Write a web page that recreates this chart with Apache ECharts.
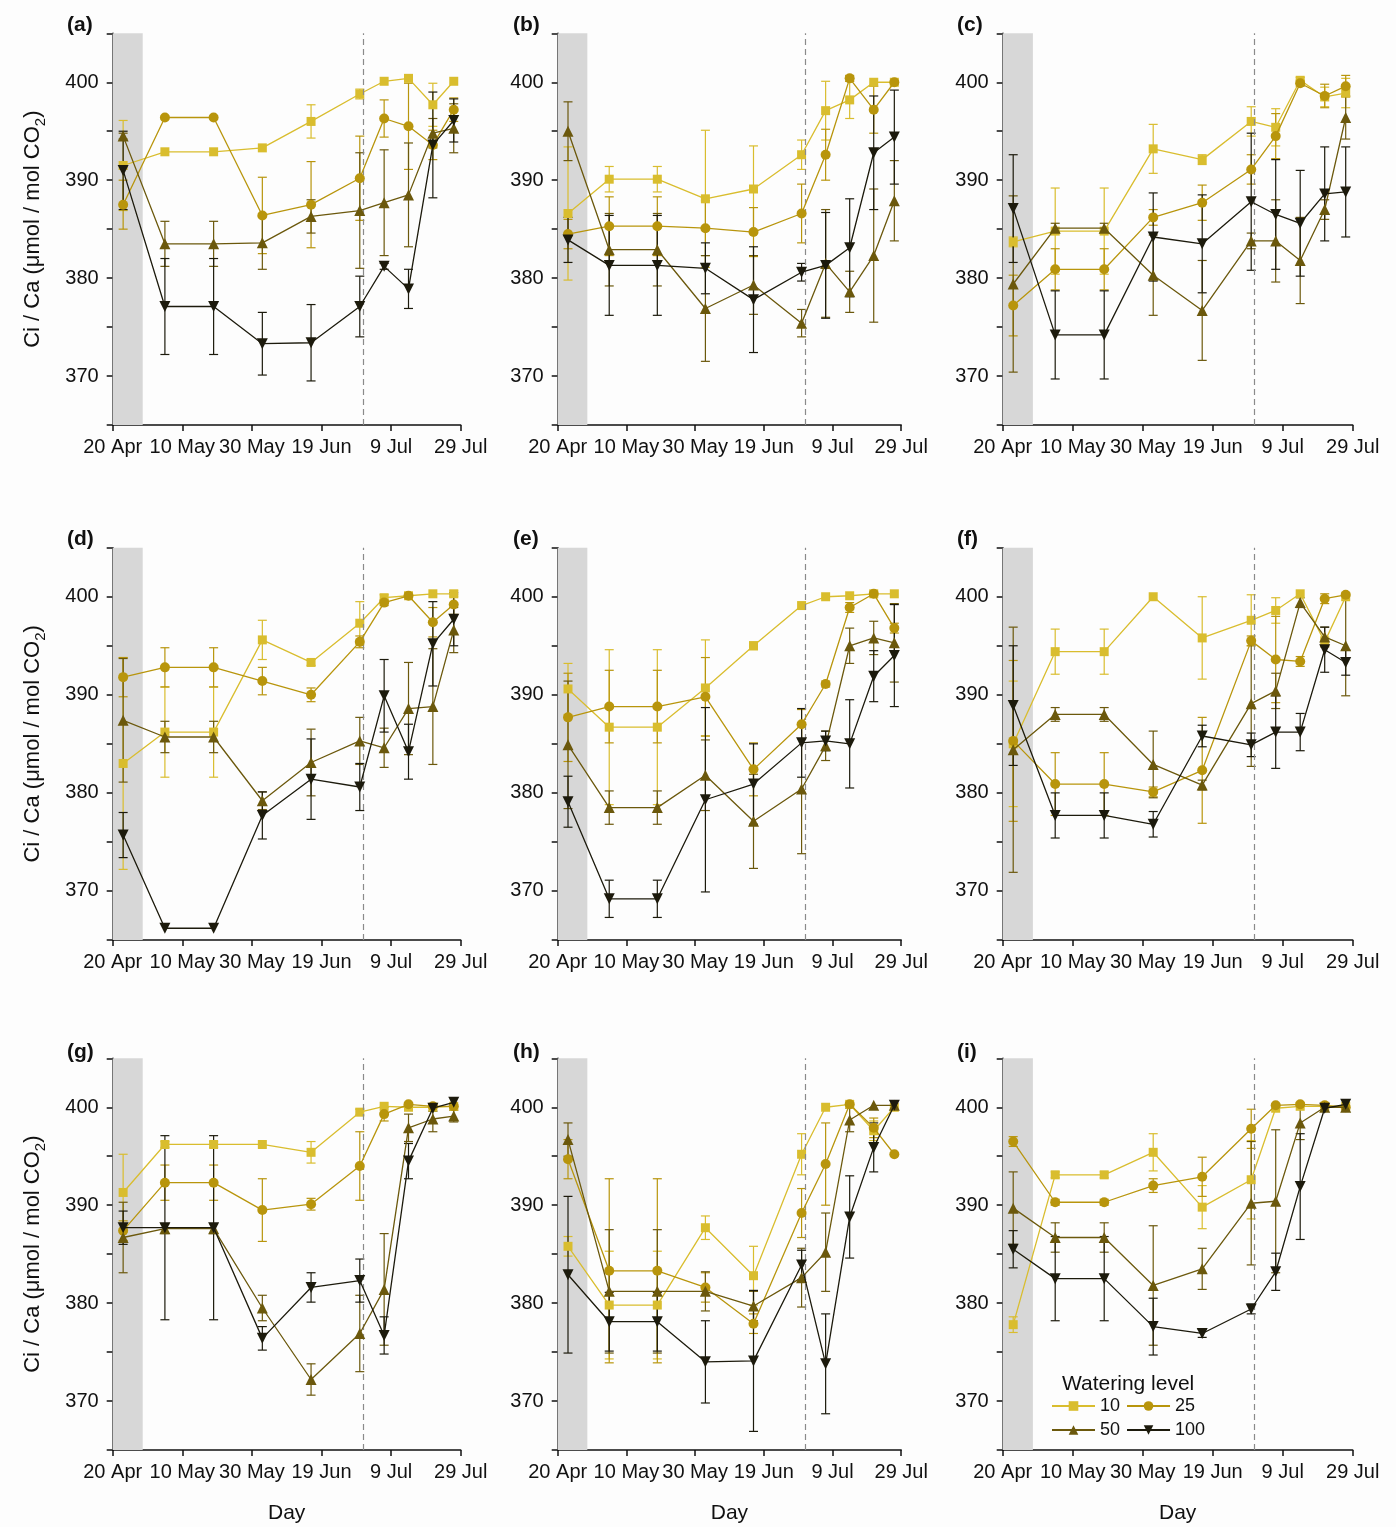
<!DOCTYPE html>
<html><head><meta charset="utf-8">
<script src="https://cdn.jsdelivr.net/npm/echarts@6/dist/echarts.min.js"></script>
<style>html,body{margin:0;padding:0;background:#fdfdfd}#chart{width:1396px;height:1527px}</style>
</head><body><div id="chart"></div><script>
// ---------- data ----------
const startDate = '2021-04-20';
const sampleDates = ['2021-04-23','2021-05-05','2021-05-19','2021-06-02','2021-06-16','2021-06-30','2021-07-07','2021-07-14','2021-07-21','2021-07-27'];
const tickLabels = ['20 Apr','10 May','30 May','19 Jun','9 Jul','29 Jul'];
const shadeEnd = '2021-04-28T15:00:00Z';
const dashDate = '2021-07-01';
const levels = ['10','25','50','100'];
const panelLabels = ['(a)','(b)','(c)','(d)','(e)','(f)','(g)','(h)','(i)'];
const yTicks = [370, 380, 390, 400];

const a10 = [391.5,392.9,392.9,393.3,396.0,398.8,400.1,400.4,397.7,400.1];
const a10e = [4.6,0,0,0,1.7,0.5,0,0,2.2,0];
const a25 = [387.5,396.4,396.4,386.4,387.5,390.2,396.3,395.5,393.6,397.2];
const a25e = [2.5,0,0,3.9,4.4,4.3,1.9,4.4,1.5,1.2];
const a50 = [394.5,383.5,383.5,383.6,386.3,386.9,387.7,388.5,394.8,395.3];
const a50e = [0.3,2.3,2.3,2.7,1.7,5.9,5.4,5.3,1.5,2.5];
const a100 = [391.0,377.1,377.1,373.3,373.4,377.1,381.2,378.9,393.6,396.1];
const a100e = [4.0,4.9,4.9,3.2,3.9,3.1,0.3,2.0,5.4,2.2];

const b10 = [386.6,390.1,390.1,388.1,389.1,392.6,397.1,398.2,400.0,400.0];
const b10e = [6.8,1.3,1.3,7.0,4.4,1.5,3.0,1.9,0,0];
const b25 = [384.5,385.3,385.3,385.1,384.7,386.6,392.6,400.4,397.2,400.0];
const b25e = [1.5,3.0,3.0,2.8,2.5,3.0,2.6,0.3,2.4,0];
const b50 = [395.0,382.9,382.9,376.9,379.3,375.4,381.5,378.6,382.3,387.9];
const b50e = [3.0,3.7,3.7,5.4,3.0,1.4,5.5,2.1,6.8,4.1];
const b100 = [383.9,381.3,381.3,381.0,377.8,380.6,381.3,383.1,392.8,394.4];
const b100e = [2.3,5.1,5.1,2.6,5.4,0.9,5.4,5.0,5.8,4.8];

const c10 = [383.7,384.8,384.8,393.2,392.1,396.0,395.4,400.2,398.5,398.9];
const c10e = [0.5,4.4,4.4,2.5,0.5,1.5,1.9,0.3,1.0,1.5];
const c25 = [377.2,380.9,380.9,386.2,387.7,391.1,394.5,399.9,398.6,399.6];
const c25e = [3.1,2.1,2.1,0.8,1.8,1.5,2.3,0.3,1.2,1.1];
const c50 = [379.4,385.1,385.1,380.3,376.7,383.8,383.8,381.8,387.0,396.4];
const c50e = [9.0,0.5,0.5,4.1,5.1,0.8,4.2,4.4,1.0,2.2];
const c100 = [387.1,374.2,374.2,384.2,383.5,387.8,386.5,385.6,388.6,388.8];
const c100e = [5.5,4.5,4.5,4.5,5.0,7.0,5.6,5.4,4.8,4.6];

const d10 = [383.0,386.2,386.2,395.6,393.3,397.3,399.9,400.1,400.3,400.3];
const d10e = [10.8,4.6,4.6,2.0,0.3,2.2,0.3,0,0,0.3];
const d25 = [391.8,392.8,392.8,391.4,390.0,395.4,399.4,400.1,397.4,399.2];
const d25e = [2.0,2.0,2.0,1.4,0.7,0.6,0.3,0,1.5,1.0];
const d50 = [387.4,385.7,385.7,379.2,383.1,385.3,384.6,388.6,388.8,396.6];
const d50e = [6.3,1.6,1.6,0.9,3.4,2.4,2.0,4.7,5.9,2.3];
const d100 = [375.7,366.2,366.2,377.7,381.4,380.6,389.9,384.2,395.2,397.7];
const d100e = [2.3,0,0,2.4,4.1,2.4,3.7,2.8,4.3,2.7];

const e10 = [390.6,386.7,386.7,390.7,395.0,399.1,400.0,400.1,400.3,400.3];
const e10e = [2.6,7.9,7.9,4.9,0.4,0,0,0,0,0];
const e25 = [387.7,388.8,388.8,389.8,382.4,387.0,391.1,398.9,400.3,396.8];
const e25e = [4.5,3.7,3.7,4.0,2.7,1.5,0.3,0.5,0,0.5];
const e50 = [384.9,378.5,378.5,381.8,377.1,380.4,384.8,395.0,395.8,395.3];
const e50e = [6.5,1.7,1.7,3.6,4.8,6.6,1.5,1.8,1.7,4.0];
const e100 = [379.1,369.2,369.2,379.3,380.9,385.1,385.3,385.0,391.9,394.0];
const e100e = [2.6,1.9,1.9,9.4,4.1,3.5,1.0,4.5,2.6,5.2];

const f10 = [385.0,394.4,394.4,400.0,395.8,397.6,398.6,400.3,395.4,400.0];
const f10e = [6.4,2.3,2.3,0,4.2,2.6,1.3,0,0.5,0];
const f25 = [385.3,380.9,380.9,380.1,382.3,395.5,393.6,393.4,399.8,400.2];
const f25e = [8.2,3.2,3.2,0.5,5.4,0.5,4.4,0.5,0.5,0];
const f50 = [384.4,388.0,388.0,382.9,380.8,389.1,390.4,399.4,395.9,395.0];
const f50e = [12.5,0.7,0.7,3.4,0.5,6.4,1.8,0.5,1.0,5.1];
const f100 = [388.9,377.7,377.7,376.8,385.8,384.9,386.2,386.2,394.6,393.3];
const f100e = [6.1,2.3,2.3,1.3,1.1,1.2,3.7,1.9,2.3,1.3];

const g10 = [391.3,396.2,396.2,396.2,395.4,399.5,400.1,400.0,400.0,400.1];
const g10e = [3.9,0.3,0.3,0,1.1,0.3,0,0,0,0];
const g25 = [387.4,392.3,392.3,389.5,390.1,394.0,399.3,400.3,400.1,400.1];
const g25e = [1.0,1.8,1.8,3.2,0.6,3.5,0.7,0,0,0];
const g50 = [386.7,387.6,387.6,379.5,372.2,376.9,381.4,397.9,398.8,399.1];
const g50e = [3.6,0.5,0.5,1.3,1.6,3.9,5.7,1.4,1.3,0.6];
const g100 = [387.7,387.7,387.7,376.4,381.6,382.3,376.7,394.5,399.9,400.5];
const g100e = [1.7,9.4,9.4,1.2,1.5,2.2,1.9,1.8,0.3,0];

const h10 = [385.8,379.8,379.8,387.7,382.8,395.2,400.0,400.3,397.6,400.0];
const h10e = [1.0,5.5,5.5,1.2,3.0,2.1,0,0,1.0,0];
const h25 = [394.7,383.3,383.3,381.6,377.9,389.2,394.2,400.3,397.9,395.2];
const h25e = [2.0,9.4,9.4,1.5,1.0,2.5,4.2,0,1.0,0];
const h50 = [396.7,381.2,381.2,381.2,379.7,382.6,385.2,398.7,400.2,400.2];
const h50e = [1.7,6.3,6.3,2.0,1.5,3.0,4.0,1.2,0,0];
const h100 = [382.9,378.1,378.1,374.0,374.1,383.9,373.8,388.8,395.9,400.2];
const h100e = [8.0,3.0,3.0,4.2,7.2,1.5,5.1,4.2,2.5,0];

const i10 = [377.8,393.1,393.1,395.4,389.8,392.6,399.9,400.1,400.1,400.1];
const i10e = [0.8,0.3,0.3,1.9,2.2,4.0,0,0,0,0];
const i25 = [396.5,390.3,390.3,392.0,392.9,397.8,400.2,400.3,400.2,400.0];
const i25e = [0.5,0.3,0.3,0.7,2.0,2.0,0,0,0,0];
const i50 = [389.7,386.7,386.7,381.8,383.5,390.2,390.4,398.4,400.0,400.0];
const i50e = [3.7,1.5,1.5,6.1,2.1,6.3,7.3,1.7,0,0];
const i100 = [385.5,382.5,382.5,377.6,376.9,379.4,383.2,391.9,399.9,400.3];
const i100e = [1.9,4.3,4.3,2.9,0.4,0.5,1.9,5.4,0,0];

// ---------- build ----------
const panels = [
  [[a10,a10e],[a25,a25e],[a50,a50e],[a100,a100e]],
  [[b10,b10e],[b25,b25e],[b50,b50e],[b100,b100e]],
  [[c10,c10e],[c25,c25e],[c50,c50e],[c100,c100e]],
  [[d10,d10e],[d25,d25e],[d50,d50e],[d100,d100e]],
  [[e10,e10e],[e25,e25e],[e50,e50e],[e100,e100e]],
  [[f10,f10e],[f25,f25e],[f50,f50e],[f100,f100e]],
  [[g10,g10e],[g25,g25e],[g50,g50e],[g100,g100e]],
  [[h10,h10e],[h25,h25e],[h50,h50e],[h100,h100e]],
  [[i10,i10e],[i25,i25e],[i50,i50e],[i100,i100e]]
];
const t0 = Date.parse(startDate + 'T00:00:00Z');
const dayOf = s => (Date.parse(s.length > 10 ? s : s + 'T00:00:00Z') - t0) / 864e5;
const xDays = sampleDates.map(dayOf);

const FONT = '"Liberation Sans", Arial, sans-serif';
const colors = ['#d9bd2e', '#b8950c', '#6b580c', '#1c1a0c'];
const symbols = ['rect', 'circle', 'triangle', 'path://M0,0L2,0L1,1.75Z'];
const symSizes = [9, 10, 11, 11];

const lefts = [112.7, 557.7, 1002.7];
const widths = [348, 343.5, 350];
const tops = [33.3, 547.7, 1058.3];
const heights = [391.7, 392.3, 391.7];

const grids = [], xAxes = [], yAxes = [], series = [], errSeries = [], titles = [];
const labelOffsets = [62, 508, 952];
const labelTops = [10, 524, 1037];

function renderErr(params, api) {
  const x = api.value(0), lo = api.value(1), hi = api.value(2);
  if (!(hi - lo > 0.05)) return;
  const p1 = api.coord([x, hi]), p2 = api.coord([x, lo]);
  const w = 4.5;
  const style = { stroke: api.visual('color'), lineWidth: 1.2, fill: null };
  return { type: 'group', children: [
    { type: 'line', shape: { x1: p1[0], y1: p1[1], x2: p2[0], y2: p2[1] }, style },
    { type: 'line', shape: { x1: p1[0] - w, y1: p1[1], x2: p1[0] + w, y2: p1[1] }, style },
    { type: 'line', shape: { x1: p2[0] - w, y1: p2[1], x2: p2[0] + w, y2: p2[1] }, style }
  ] };
}

panels.forEach((panel, k) => {
  const r = Math.floor(k / 3), c = k % 3;
  grids.push({ left: lefts[c], top: tops[r], width: widths[c], height: heights[r] });
  xAxes.push({
    type: 'value', gridIndex: k, min: 0, max: 100, interval: 20,
    axisLine: { show: true, onZero: false, lineStyle: { color: '#111', width: 1.5 } },
    axisTick: { show: true, length: 6, lineStyle: { color: '#111', width: 1.5 } },
    axisLabel: { margin: 12, fontSize: 20, color: '#111', fontFamily: FONT,
      formatter: v => tickLabels[Math.round(v / 20)] || '' },
    splitLine: { show: false },
    name: r === 2 ? 'Day' : '', nameLocation: 'middle', nameGap: 53,
    nameTextStyle: { fontSize: 21, color: '#111', fontFamily: FONT }
  });
  yAxes.push({
    type: 'value', gridIndex: k, min: 365, max: 405, interval: 5,
    axisLine: { show: true, onZero: false, lineStyle: { color: '#111', width: 1.5 } },
    axisTick: { show: true, length: 6, lineStyle: { color: '#111', width: 1.5 } },
    axisLabel: { margin: 14, fontSize: 20, color: '#111', fontFamily: FONT,
      formatter: v => yTicks.includes(v) ? String(v) : '' },
    splitLine: { show: false },
    name: c === 0 ? 'Ci / Ca (μmol / mol CO{s|2})' : '', nameLocation: 'middle', nameGap: 64,
    nameTextStyle: { fontSize: 22, color: '#111', fontFamily: FONT,
      rich: { s: { fontSize: 15, fontFamily: FONT, color: '#111', verticalAlign: 'bottom', lineHeight: 31 } } }
  });
  titles.push({ text: panelLabels[k], left: labelOffsets[c], top: labelTops[r],
    textStyle: { fontSize: 21, fontWeight: 'bold', color: '#111', fontFamily: FONT } });

  // shade band + dashed line
  series.push({
    type: 'line', name: 'bg', xAxisIndex: k, yAxisIndex: k, data: [], z: 1, silent: true,
    markArea: { silent: true, itemStyle: { color: '#d7d7d7' },
      data: [[{ xAxis: 0 }, { xAxis: dayOf(shadeEnd) }]] },
    markLine: { silent: true, symbol: ['none', 'none'], label: { show: false },
      lineStyle: { color: '#8a8a8a', type: [6, 4], width: 1.2 },
      data: [{ xAxis: dayOf(dashDate) }] }
  });

  panel.forEach(([vals, errs], j) => {
    series.push({
      type: 'line', name: levels[j], xAxisIndex: k, yAxisIndex: k, z: 4 + j,
      data: vals.map((v, n) => [xDays[n], v]),
      symbol: symbols[j], symbolSize: symSizes[j], showSymbol: true,
      lineStyle: { color: colors[j], width: 1.3 },
      itemStyle: { color: colors[j] },
      emphasis: { disabled: true }
    });
    errSeries.push({
      type: 'custom', name: levels[j], xAxisIndex: k, yAxisIndex: k, z: 3,
      renderItem: renderErr,
      itemStyle: { color: colors[j] },
      data: vals.map((v, n) => [xDays[n], v - errs[n], v + errs[n]]),
      silent: true
    });
  });
});

titles.push({ text: 'Watering level', left: 1057, top: 1369,
  textStyle: { fontSize: 21, fontWeight: 'normal', color: '#111', fontFamily: FONT } });

const option = {
  animation: false,
  backgroundColor: '#fdfdfd',
  title: titles,
  grid: grids,
  xAxis: xAxes,
  yAxis: yAxes,
  legend: {
    data: levels, left: 1051, top: 1397, width: 165, padding: 0,
    itemWidth: 43, itemHeight: 12, itemGap: 6,
    textStyle: { fontSize: 18, color: '#111', fontFamily: FONT, lineHeight: 18 },
    selectedMode: false
  },
  series: series.concat(errSeries)
};
const chart = echarts.init(document.getElementById('chart'), null, { renderer: 'canvas' });
chart.setOption(option);
</script></body></html>
